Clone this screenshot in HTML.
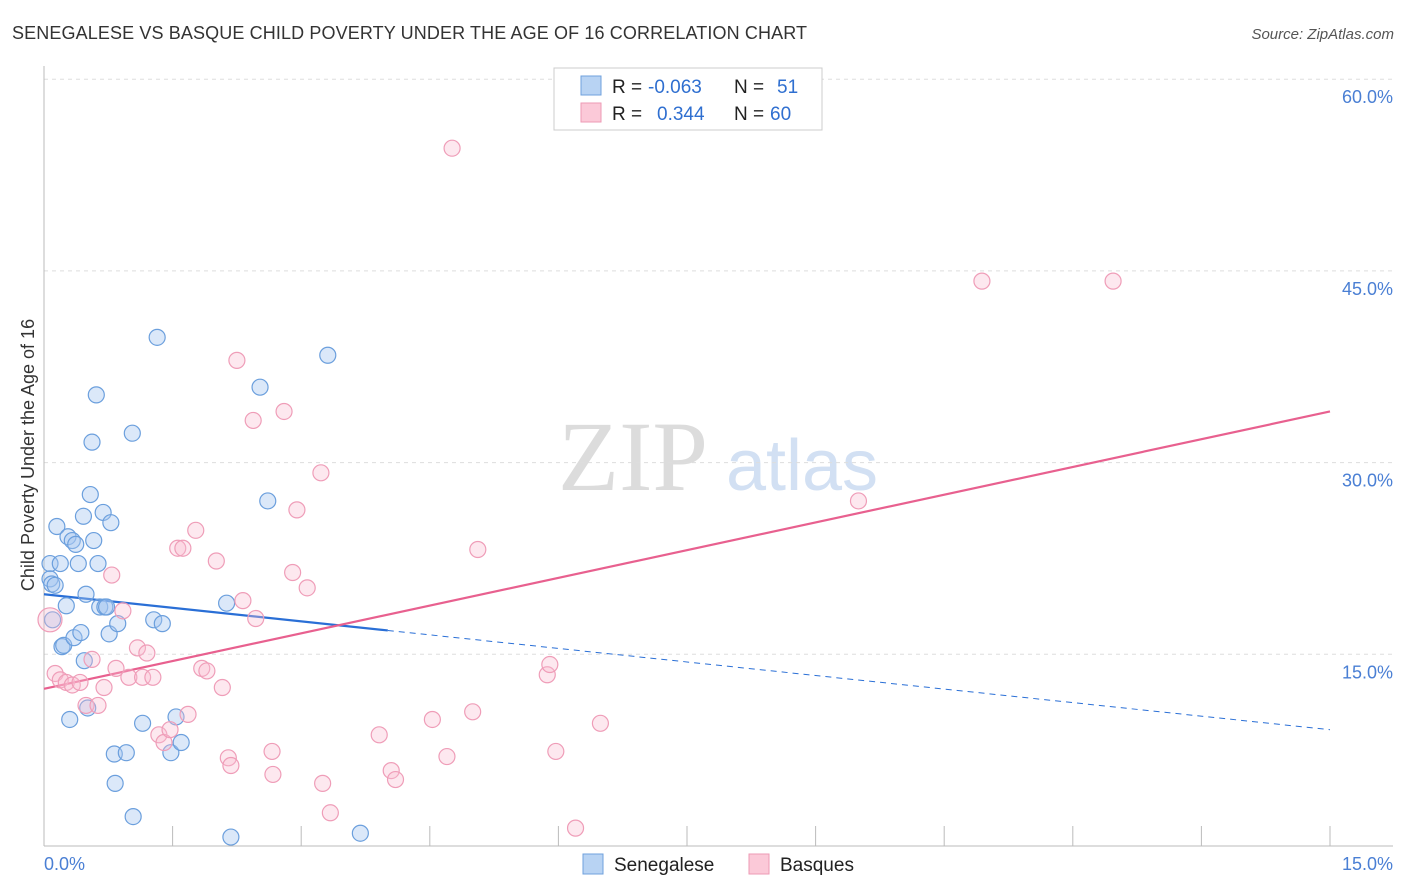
<!DOCTYPE html>
<html><head><meta charset="utf-8">
<style>
body{margin:0;background:#fff;font-family:"Liberation Sans",sans-serif;}
svg{display:block}
</style></head>
<body>
<svg id="chart" width="1406" height="892" xmlns="http://www.w3.org/2000/svg">
<text x="12" y="39" font-size="18" fill="#333" textLength="795">SENEGALESE VS BASQUE CHILD POVERTY UNDER THE AGE OF 16 CORRELATION CHART</text>
<text x="1394" y="39" font-size="15" fill="#555" font-style="italic" text-anchor="end">Source: ZipAtlas.com</text>
<g>
<text x="633" y="490" font-size="100" font-family="Liberation Serif,serif" fill="#dcdcdc" text-anchor="middle">ZIP</text>
<text x="802" y="490" font-size="72" fill="#d2e0f3" text-anchor="middle">atlas</text>
</g>
<g id="grid"></g>
<g id="axes"></g>
<g id="lines"></g>
<g id="points"></g>
<g>
<rect x="554" y="68" width="268" height="62" fill="#fff" stroke="#ccc"/>
<rect x="581" y="76" width="20" height="19" fill="#b8d3f3" stroke="#6fa0dd"/>
<rect x="581" y="103" width="20" height="19" fill="#fbc9d8" stroke="#ee9ab5"/>
<text x="612" y="93" font-size="19" fill="#222">R =</text>
<text x="648" y="93" font-size="19" fill="#2f6fd0">-0.063</text>
<text x="734" y="93" font-size="19" fill="#222">N =</text>
<text x="777" y="93" font-size="19" fill="#2f6fd0">51</text>
<text x="612" y="120" font-size="19" fill="#222">R =</text>
<text x="657" y="120" font-size="19" fill="#2f6fd0">0.344</text>
<text x="734" y="120" font-size="19" fill="#222">N =</text>
<text x="770" y="120" font-size="19" fill="#2f6fd0">60</text>
</g>
<g>
<rect x="583" y="854" width="20" height="20" fill="#b8d3f3" stroke="#6fa0dd"/>
<text x="614" y="871" font-size="19" fill="#222">Senegalese</text>
<rect x="749" y="854" width="20" height="20" fill="#fbc9d8" stroke="#ee9ab5"/>
<text x="780" y="871" font-size="19" fill="#222">Basques</text>
</g>
<text transform="translate(34,455) rotate(-90)" font-size="18" fill="#333" text-anchor="middle">Child Poverty Under the Age of 16</text>
</svg>
<script>
const yTicks=[15,30,45,60];
const yTickLabels=["15.0%","30.0%","45.0%","60.0%"];
const xTickCount=11;
const blueX=[.07,.07,.09,.13,.10,.15,.19,.21,.23,.26,.28,.30,.33,.35,.37,.40,.43,.46,.47,.49,.51,.54,.56,.58,.61,.63,.65,.69,.71,.73,.76,.78,.82,.83,.86,.96,1.03,1.04,1.15,1.28,1.32,1.38,1.48,1.54,1.60,2.13,2.18,2.52,2.61,3.31,3.69];
const blueY=[22.1,20.9,20.5,20.4,17.7,25.0,22.1,15.6,15.7,18.8,24.2,9.9,23.9,16.3,23.6,22.1,16.7,25.8,14.5,19.7,10.8,27.5,31.6,23.9,35.3,22.1,18.7,26.1,18.7,18.7,16.6,25.3,7.2,4.9,17.4,7.3,32.3,2.3,9.6,17.7,39.8,17.4,7.3,10.1,8.1,19.0,0.7,35.9,27.0,38.4,1.0];
const pinkX=[.07,.13,.19,.26,.33,.42,.49,.56,.63,.70,.79,.84,.92,.99,1.09,1.15,1.20,1.27,1.34,1.40,1.47,1.56,1.62,1.68,1.77,1.84,1.90,2.01,2.08,2.15,2.18,2.25,2.32,2.44,2.47,2.66,2.67,2.80,2.90,2.95,3.07,3.23,3.25,3.34,3.91,4.05,4.10,4.53,4.70,4.76,5.00,5.06,5.87,5.90,5.97,6.20,6.49,9.50,10.94,12.47];
const pinkY=[17.7,13.5,13.0,12.8,12.6,12.8,11.0,14.6,11.0,12.4,21.2,13.9,18.4,13.2,15.5,13.2,15.1,13.2,8.7,8.1,9.1,23.3,23.3,10.3,24.7,13.9,13.7,22.3,12.4,6.9,6.3,38.0,19.2,33.3,17.8,7.4,5.6,34.0,21.4,26.3,20.2,29.2,4.9,2.6,8.7,5.9,5.2,9.9,7.0,54.6,10.5,23.2,13.4,14.2,7.4,1.4,9.6,27.0,44.2,44.2];
const blueTrend=[19.7,9.1];
const blueSolidEnd=4.01;
const pinkTrend=[12.3,34.0];
const NS="http://www.w3.org/2000/svg";
const X0=44,X1=1330,Y0=846,PY=12.78;
const sx=v=>X0+(X1-X0)*v/15;
const sy=v=>Y0-v*PY;
function mk(tag,attrs,parent){const e=document.createElementNS(NS,tag);for(const k in attrs)e.setAttribute(k,attrs[k]);parent.appendChild(e);return e;}
const grid=document.getElementById('grid'),axes=document.getElementById('axes'),lines=document.getElementById('lines'),pts=document.getElementById('points');
yTicks.forEach((t,i)=>{
 const l=mk('line',{x1:X0,x2:1393,y1:sy(t),y2:sy(t),stroke:'#ddd','stroke-dasharray':'4,4'},grid);
 
 
 const tx=mk('text',{x:1393,y:sy(t)+24,'font-size':18,fill:'#4a7fd4','text-anchor':'end'},axes);
 tx.textContent=yTickLabels[i];
 
 
});
const ya=mk('line',{x1:X0,x2:X0,y1:66,y2:Y0,stroke:'#bbb'},axes);


const xa=mk('line',{x1:X0,x2:1393,y1:Y0,y2:Y0,stroke:'#bbb'},axes);


for(let i=0;i<xTickCount;i++){
 const t=mk('line',{x1:sx(i*1.5),x2:sx(i*1.5),y1:826,y2:Y0,stroke:'#bbb'},axes);
 
 
}
const xl0=mk('text',{x:44,y:870,'font-size':18,fill:'#4a7fd4'},axes);xl0.textContent='0.0%';


const xl1=mk('text',{x:1393,y:870,'font-size':18,fill:'#4a7fd4','text-anchor':'end'},axes);xl1.textContent='15.0%';


blueX.forEach((x,i)=>{
 const c=mk('circle',{cx:sx(x),cy:sy(blueY[i]),r:8,fill:'rgba(164,198,240,0.4)',stroke:'#6b9fdd','stroke-width':1.2},pts);
 
 
});
pinkX.forEach((x,i)=>{
 const c=mk('circle',{cx:sx(x),cy:sy(pinkY[i]),r:i===0?12:8,fill:'rgba(248,188,208,0.35)',stroke:'#ef9db8','stroke-width':1.2},pts);
 
 
});
const bAt=x=>blueTrend[0]+(blueTrend[1]-blueTrend[0])*x/15;
const bl=mk('line',{x1:sx(0),y1:sy(blueTrend[0]),x2:sx(blueSolidEnd),y2:sy(bAt(blueSolidEnd)),stroke:'#2a6fd6','stroke-width':2.2},lines);


const bd=mk('line',{x1:sx(blueSolidEnd),y1:sy(bAt(blueSolidEnd)),x2:sx(15),y2:sy(blueTrend[1]),stroke:'#2a6fd6','stroke-width':1,'stroke-dasharray':'6,5'},lines);


const pl=mk('line',{x1:sx(0),y1:sy(pinkTrend[0]),x2:sx(15),y2:sy(pinkTrend[1]),stroke:'#e8608f','stroke-width':2.2},lines);


</script>
</body></html>
